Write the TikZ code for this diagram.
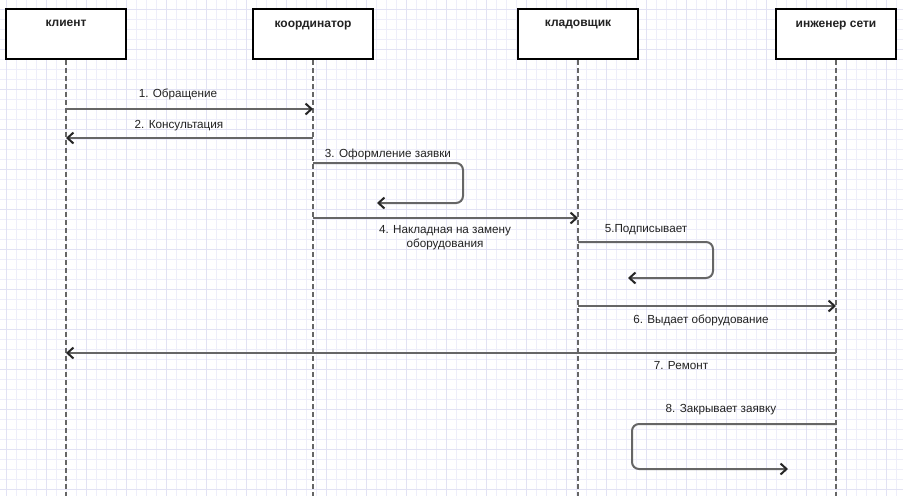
\documentclass[tikz,border=0pt]{standalone}
\usepackage{fontspec}
\setmainfont{Liberation Sans}
\usetikzlibrary{arrows.meta}
\definecolor{gridc}{HTML}{EEEEFA}
\definecolor{gridm}{HTML}{E2E2F4}
\definecolor{linec}{HTML}{666666}
\definecolor{textc}{HTML}{222222}
\begin{document}
\begin{tikzpicture}[x=1pt,y=-1pt,
  actorbox/.style={draw=black,line width=2.6pt,fill=white,minimum width=120pt,minimum height=50pt,inner sep=0pt},
  actorname/.style={font=\fontsize{12}{14}\selectfont\bfseries,text=textc,anchor=north},
  lifeline/.style={draw=linec,line width=2pt,dash pattern=on 5pt off 3pt},
  msg/.style={draw=linec,line width=2pt,-{Straight Barb[length=6pt,width=11pt,line width=2pt,color=black!85]}},
  msglabel/.style={font=\fontsize{11.7}{14}\selectfont,text=textc,inner sep=0pt,align=center}]
\useasboundingbox (0,0) rectangle (903,496);
\fill[white] (0,0) rectangle (903,496);
\foreach \x in {0,10,...,900} \draw[gridc,line width=0.8pt] (\x+6,0) -- (\x+6,496);
\foreach \y in {0,10,...,490} \draw[gridc,line width=0.8pt] (0,\y+9) -- (903,\y+9);
\foreach \x in {0,40,...,880} \draw[gridm,line width=0.8pt] (\x+6,0) -- (\x+6,496);
\foreach \y in {0,40,...,480} \draw[gridm,line width=0.8pt] (0,\y+9) -- (903,\y+9);

\node[actorbox] (cl) at (66,34) {};
\node[actorbox] (co) at (313,34) {};
\node[actorbox] (kl) at (578,34) {};
\node[actorbox] (en) at (836,34) {};
\node[actorname] (tcl) at (66,17) {клиент};
\node[actorname] (tco) at (313,17) {координатор};
\node[actorname] (tkl) at (578,17) {кладовщик};
\node[actorname] (ten) at (836,17) {инженер сети};

\coordinate (clb) at (66,496);
\coordinate (cob) at (313,496);
\coordinate (klb) at (578,496);
\coordinate (enb) at (836,496);
\draw[lifeline] (cl.south) -- (clb);
\draw[lifeline] (co.south) -- (cob);
\draw[lifeline] (kl.south) -- (klb);
\draw[lifeline] (en.south) -- (enb);

% 1
\coordinate (m1a) at (66,109); \coordinate (m1b) at (313,109);
\draw[msg] (m1a) -- (m1b);
\node[msglabel] (l1) at (178,94) {1. Обращение};
% 2
\coordinate (m2a) at (313,138); \coordinate (m2b) at (66,138);
\draw[msg] (m2a) -- (m2b);
\node[msglabel] (l2) at (179,126) {2. Консультация};
% 3
\coordinate (m3a) at (313,163); \coordinate (m3b) at (377,203);
\draw[msg,rounded corners=7pt] (m3a) -- (463,163) -- (463,203) -- (m3b);
\node[msglabel] (l3) at (388,154) {3. Оформление заявки};
% 4
\coordinate (m4a) at (313,218); \coordinate (m4b) at (578,218);
\draw[msg] (m4a) -- (m4b);
\node[msglabel] (l4) at (445,238) {4. Накладная на замену\\оборудования};
% 5
\coordinate (m5a) at (578,242); \coordinate (m5b) at (628,278);
\draw[msg,rounded corners=7pt] (m5a) -- (713,242) -- (713,278) -- (m5b);
\node[msglabel] (l5) at (646,230) {5.Подписывает};
% 6
\coordinate (m6a) at (578,306); \coordinate (m6b) at (836,306);
\draw[msg] (m6a) -- (m6b);
\node[msglabel] (l6) at (701,320) {6. Выдает оборудование};
% 7
\coordinate (m7a) at (836,353); \coordinate (m7b) at (66,353);
\draw[msg] (m7a) -- (m7b);
\node[msglabel] (l7) at (681,366) {7. Ремонт};
% 8
\coordinate (m8a) at (836,424); \coordinate (m8b) at (788,469);
\draw[msg,rounded corners=7pt] (m8a) -- (632,424) -- (632,469) -- (m8b);
\node[msglabel] (l8) at (721,410) {8. Закрывает заявку};
\end{tikzpicture}
\end{document}
